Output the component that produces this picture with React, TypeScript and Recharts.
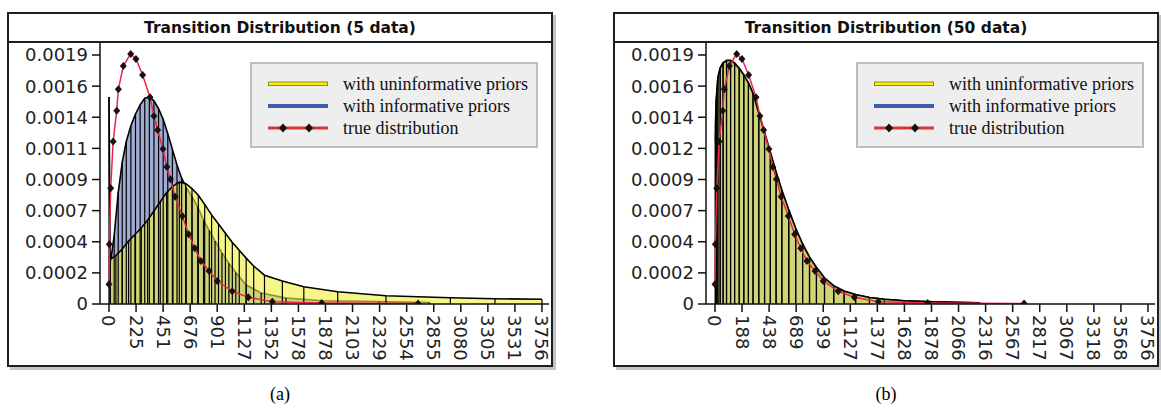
import React from 'react'
import { ComposedChart, Area, Line, XAxis, YAxis, ReferenceLine, Legend } from 'recharts'

// true transition distribution (same curve in both panels)
const trueX = [0, 3, 15, 36, 67, 81, 124, 188, 234, 292, 356, 390, 422, 468, 502, 533, 574, 636, 691, 744, 797, 868, 939, 1069, 1209, 1417, 1845, 2681]
const trueY = [0.00015, 0.000455, 0.000883, 0.00124, 0.001475, 0.001638, 0.001816, 0.001908, 0.00187, 0.001747, 0.001577, 0.001435, 0.001328, 0.001183, 0.001045, 0.000951, 0.000819, 0.000671, 0.000532, 0.000425, 0.000328, 0.000252, 0.000175, 0.000097, 0.000051, 0.000018, 0.000008, 0.000003]

// 5 data: estimate with uninformative priors
const uninf5X = [12, 60, 115, 170, 225, 280, 335, 390, 445, 500, 555, 610, 665, 720, 775, 830, 890, 950, 1010, 1070, 1130, 1190, 1255, 1349, 1504, 1690, 1984, 2403, 2961, 3348, 3756]
const uninf5Y = [0.00034, 0.00037, 0.00042, 0.00048, 0.00053, 0.00058, 0.00064, 0.00071, 0.00078, 0.00085, 0.0009, 0.00093, 0.00092, 0.00088, 0.00083, 0.00076, 0.00068, 0.00061, 0.00054, 0.00047, 0.00041, 0.00035, 0.00029, 0.00022, 0.000175, 0.000132, 0.000094, 0.000063, 0.000048, 0.00004, 0.000036]

// 5 data: estimate with informative priors
const inf5X = [0, 10, 45, 80, 115, 150, 190, 230, 270, 310, 350, 390, 430, 470, 510, 550, 590, 630, 670, 720, 770, 820, 870, 920, 980, 1040, 1100, 1190, 1320, 1535, 1845, 2340, 2780]
const inf5Y = [0.00158, 0.0003, 0.00052, 0.00085, 0.00108, 0.00124, 0.00136, 0.00145, 0.00152, 0.00157, 0.00158, 0.00155, 0.00149, 0.00141, 0.0013, 0.00118, 0.00106, 0.00096, 0.00089, 0.00082, 0.00074, 0.00064, 0.00056, 0.00048, 0.00039, 0.00031, 0.00024, 0.000145, 0.000084, 0.000046, 0.000025, 0.000018, 0.000012]

// 50 data
const uninf50X = [3, 12, 25, 45, 70, 100, 135, 170, 210, 250, 290, 330, 380, 430, 480, 530, 580, 640, 700, 760, 820, 880, 950, 1030, 1120, 1220, 1340, 1470, 1640, 1878, 2250]
const uninf50Y = [0.00125, 0.00155, 0.00172, 0.0018, 0.00184, 0.00186, 0.00186, 0.00184, 0.0018, 0.00175, 0.00169, 0.00161, 0.00146, 0.00131, 0.00116, 0.00101, 0.00087, 0.00072, 0.00058, 0.00046, 0.00036, 0.00028, 0.0002, 0.00014, 0.0001, 0.000072, 0.00005, 0.000036, 0.000025, 0.000016, 0.00001]
const inf50X = [3, 12, 25, 45, 70, 100, 135, 170, 210, 250, 290, 330, 380, 430, 480, 530, 580, 640, 700, 760, 820, 880, 950, 1030, 1120, 1220, 1340, 1470, 1640, 1900, 2300]
const inf50Y = [0.00135, 0.00158, 0.00173, 0.0018, 0.00184, 0.00185, 0.00185, 0.00183, 0.00179, 0.00174, 0.00168, 0.0016, 0.00145, 0.0013, 0.00115, 0.001, 0.00086, 0.00071, 0.00057, 0.00045, 0.00035, 0.00027, 0.00019, 0.000135, 0.000097, 0.00007, 0.00005, 0.000035, 0.000025, 0.000016, 0.00001]

const xLabels5 = ['0', '225', '451', '676', '901', '1127', '1352', '1578', '1878', '2103', '2329', '2554', '2855', '3080', '3305', '3531', '3756']
const xLabels50 = ['0', '188', '438', '689', '939', '1127', '1377', '1628', '1878', '2066', '2316', '2567', '2817', '3067', '3318', '3568', '3756']
const yLabels5 = ['0', '0.0002', '0.0004', '0.0007', '0.0009', '0.0011', '0.0014', '0.0016', '0.0019']
const yLabels50 = ['0', '0.0002', '0.0004', '0.0007', '0.0009', '0.0012', '0.0014', '0.0016', '0.0019']

const X_MAX = 3756
const Y_MAX = 0.0019
const xTicks = xLabels5.map((_, i) => (i * X_MAX) / 16)
const yTicks = yLabels5.map((_, i) => (i * Y_MAX) / 8)

const YELLOW = '#EEEE3C'
const BLUE = '#A0ACD2'
const RED = '#E8274B'

const legendEntries = [
  { name: 'with uninformative priors', kind: 'uninf' },
  { name: 'with informative priors', kind: 'inf' },
  { name: 'true distribution', kind: 'true' },
]

function mergeRows(list: { key: string; xs: number[]; ys: number[] }[]) {
  const map = new Map<number, any>()
  list.forEach((s) =>
    s.xs.forEach((x, i) => {
      const row = map.get(x) ?? { x }
      row[s.key] = s.ys[i]
      map.set(x, row)
    })
  )
  return [...map.values()].sort((a, b) => a.x - b.x)
}

const Diamond = (p: any) => {
  const { cx, cy, index } = p
  if (cx == null || cy == null || p.value == null) return <g key={`d${index}`} />
  return <path key={`d${index}`} d={`M${cx},${cy - 4}L${cx + 3.5},${cy}L${cx},${cy + 4}L${cx - 3.5},${cy}Z`} fill="#1a1010" />
}

const XTick = ({ x, y, index, labels }: any) => (
  <text
    transform={`translate(${x},${y + 1}) rotate(90)`}
    dominantBaseline="central"
    textAnchor="start"
    fontSize={18}
    fill="#222"
    fontFamily="DejaVu Sans"
  >
    {labels[index]}
  </text>
)

function LegendBox() {
  return (
    <div
      style={{
        width: 288,
        height: 86,
        boxSizing: 'border-box',
        background: '#EEEEEE',
        border: '2px solid #BDBDBD',
        padding: '9px 0 0 16px',
        fontFamily: '"Liberation Serif", "Times New Roman", serif',
        fontSize: 18,
        color: '#111',
      }}
    >
      {legendEntries.map((e) => (
        <div key={e.name} style={{ display: 'flex', alignItems: 'center', height: 22 }}>
          <svg width={60} height={10} style={{ flex: 'none' }}>
            {e.kind === 'uninf' && <rect x={0.5} y={3} width={59} height={3.5} fill="#F2F200" stroke="#8C8C28" strokeWidth={1} />}
            {e.kind === 'inf' && <rect x={0} y={3} width={60} height={4} fill="#3C5FA8" />}
            {e.kind === 'true' && (
              <g>
                <rect x={0} y={3.5} width={60} height={3} fill="#D23A3A" />
                <path d="M15,0.5L19,5L15,9.5L11,5Z" fill="#111" />
                <path d="M41,0.5L45,5L41,9.5L37,5Z" fill="#111" />
              </g>
            )}
          </svg>
          <span style={{ marginLeft: 15, lineHeight: '22px' }}>{e.name}</span>
        </div>
      ))}
    </div>
  )
}

function Panel(props: {
  left: number
  title: string
  uninfX: number[]
  uninfY: number[]
  infX: number[]
  infY: number[]
  xLabels: string[]
  yLabels: string[]
}) {
  const { left, title, uninfX, uninfY, infX, infY, xLabels, yLabels } = props
  const rows = mergeRows([
    { key: 'inf', xs: infX, ys: infY },
    { key: 'uninf', xs: uninfX, ys: uninfY },
    { key: 'truth', xs: trueX, ys: trueY },
  ])
  return (
    <div
      style={{
        position: 'absolute',
        left,
        top: 12,
        width: 546,
        height: 355,
        boxSizing: 'border-box',
        border: '2px solid #1e1e1e',
        boxShadow: '3px 3px 0 #c4c4c4',
        background: '#fff',
      }}
    >
      <div
        style={{
          height: 27,
          borderBottom: '2px solid #1e1e1e',
          textAlign: 'center',
          fontFamily: '"DejaVu Sans", sans-serif',
          fontWeight: 'bold',
          fontSize: 15.5,
          lineHeight: '28px',
          color: '#111',
        }}
      >
        {title}
      </div>
      <ComposedChart width={542} height={322} data={rows} margin={{ top: 0, right: 2, bottom: 0, left: 0 }}>
        <XAxis
          type="number"
          dataKey="x"
          domain={[-78, 3817]}
          allowDataOverflow
          ticks={xTicks}
          interval={0}
          height={61}
          tickSize={8}
          axisLine={{ stroke: '#111', strokeWidth: 1.5 }}
          tickLine={{ stroke: '#111', strokeWidth: 1.5 }}
          tick={<XTick labels={xLabels} />}
        />
        <YAxis
          type="number"
          domain={[0, 0.0019916]}
          allowDataOverflow
          ticks={yTicks}
          interval={0}
          width={91}
          tickSize={8}
          tickMargin={4}
          axisLine={{ stroke: '#111', strokeWidth: 1.5 }}
          tickLine={{ stroke: '#111', strokeWidth: 1.5 }}
          tick={{ fontSize: 18, fill: '#222', fontFamily: 'DejaVu Sans' }}
          tickFormatter={(_v: number, i: number) => yLabels[i]}
        />
        <Area
          type="linear"
          dataKey="inf"
          name="with informative priors"
          connectNulls
          stroke="#000"
          strokeWidth={1.6}
          fill={BLUE}
          fillOpacity={1}
          isAnimationActive={false}
        />
        <Area
          type="linear"
          dataKey="uninf"
          name="with uninformative priors"
          connectNulls
          stroke="#000"
          strokeWidth={1.6}
          fill={YELLOW}
          fillOpacity={0.6}
          isAnimationActive={false}
        />
        {infX.map((x, i) => (
          <ReferenceLine key={`i${i}`} segment={[{ x, y: 0 }, { x, y: infY[i] }]} stroke="#000" strokeWidth={1.2} />
        ))}
        {uninfX.map((x, i) => (
          <ReferenceLine key={`u${i}`} segment={[{ x, y: 0 }, { x, y: uninfY[i] }]} stroke="#000" strokeWidth={1.2} />
        ))}
        <Line
          type="linear"
          dataKey="truth"
          name="true distribution"
          connectNulls
          stroke={RED}
          strokeWidth={1.5}
          dot={Diamond}
          activeDot={false}
          isAnimationActive={false}
        />
        <Legend
          layout="vertical"
          align="center"
          verticalAlign="middle"
          wrapperStyle={{ left: 241, top: 19, width: 288, height: 86 }}
          content={() => <LegendBox />}
        />
      </ComposedChart>
    </div>
  )
}

export default function App() {
  return (
    <div style={{ position: 'absolute', left: 0, top: 0, width: 1161, height: 410, background: '#fff', overflow: 'hidden' }}>
      <Panel
        left={7}
        title="Transition Distribution (5 data)"
        uninfX={uninf5X}
        uninfY={uninf5Y}
        infX={inf5X}
        infY={inf5Y}
        xLabels={xLabels5}
        yLabels={yLabels5}
      />
      <Panel
        left={613}
        title="Transition Distribution (50 data)"
        uninfX={uninf50X}
        uninfY={uninf50Y}
        infX={inf50X}
        infY={inf50Y}
        xLabels={xLabels50}
        yLabels={yLabels50}
      />
      <div style={{ position: 'absolute', left: 0, width: 560, top: 384, textAlign: 'center', fontFamily: '"Liberation Serif", serif', fontSize: 18 }}>
        (a)
      </div>
      <div style={{ position: 'absolute', left: 613, width: 546, top: 384, textAlign: 'center', fontFamily: '"Liberation Serif", serif', fontSize: 18 }}>
        (b)
      </div>
    </div>
  )
}
